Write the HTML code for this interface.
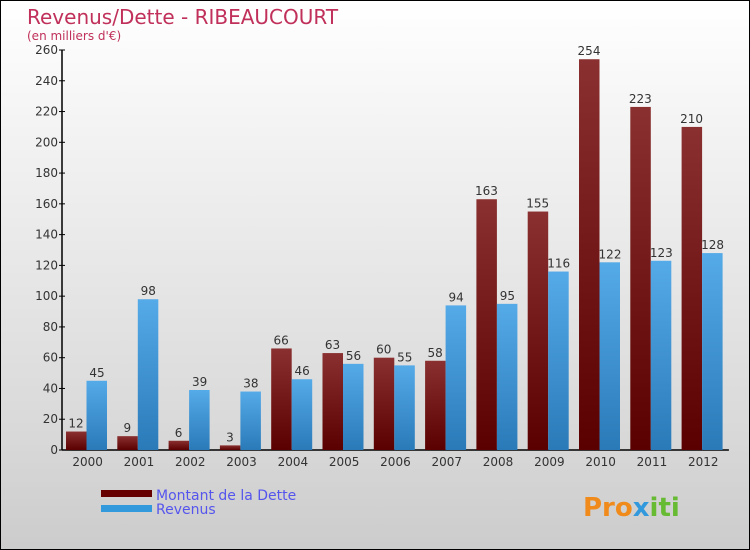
<!DOCTYPE html>
<html><head><meta charset="utf-8"><style>
body{margin:0}
#c{position:relative;width:748px;height:548px;border:1px solid #000;background:linear-gradient(#fff,#f0f0f0 30%,#d8d8d8 80%,#cccccc);font-family:"DejaVu Sans","Liberation Sans",sans-serif;overflow:hidden}
</style></head><body>
<div id="c">
<svg width="748" height="548">
<defs>
<linearGradient id="gd" x1="0" y1="0" x2="0" y2="1"><stop offset="0" stop-color="#8a3030"/><stop offset="1" stop-color="#5a0000"/></linearGradient>
<linearGradient id="gr" x1="0" y1="0" x2="0" y2="1"><stop offset="0" stop-color="#55aae8"/><stop offset="1" stop-color="#2a7ab8"/></linearGradient>
</defs>
<text x="26" y="23" font-size="20" fill="#c0305a">Revenus/Dette - RIBEAUCOURT</text>
<text x="26" y="39" font-size="12" fill="#c0305a">(en milliers d'€)</text>
<g id="axes"></g>
<g id="bars"></g>
<rect x="100" y="489" width="51" height="7" fill="#660000"/>
<rect x="100" y="504" width="51" height="7" fill="#3399dd"/>
<text x="155" y="499" font-size="14" fill="#5555ee">Montant de la Dette</text>
<text x="155" y="513" font-size="14" fill="#5555ee">Revenus</text>
<text x="582" y="515" font-size="26" font-weight="bold" fill="#f08a1a">Pro<tspan fill="#3399dd">x</tspan><tspan fill="#66bb33">iti</tspan></text>
</svg>
</div>
<script>
const years=["2000","2001","2002","2003","2004","2005","2006","2007","2008","2009","2010","2011","2012"];
const dette=[12,9,6,3,66,63,60,58,163,155,254,223,210];
const revenus=[45,98,39,38,46,56,55,94,95,116,122,123,128];
const yTicks=[0,20,40,60,80,100,120,140,160,180,200,220,240,260];
const NS="http://www.w3.org/2000/svg";
const x0=61,gw=51.3,y0=449,ppu=400/260;
const Y=v=>y0-v*ppu;
function mk(t,a,p){const e=document.createElementNS(NS,t);for(const k in a)e.setAttribute(k,a[k]);p.appendChild(e);return e;}
const ax=document.getElementById('axes'),bg=document.getElementById('bars');
const yl=mk('line',{x1:x0,y1:Y(260),x2:x0,y2:y0,stroke:'#000','stroke-width':1.5},ax);


const xl=mk('line',{x1:x0,y1:y0,x2:x0+gw*13,y2:y0,stroke:'#000','stroke-width':1.5},ax);


yTicks.forEach(v=>{
 mk('line',{x1:x0-3,x2:x0+3,y1:Y(v),y2:Y(v),stroke:'#000'},ax);
 const t=mk('text',{x:x0-4,y:Y(v)+4,'text-anchor':'end','font-size':12,fill:'#333'},ax);t.textContent=v;
 
 
});
years.forEach((yr,i)=>{
 const gx=x0+i*gw;
 const t=mk('text',{x:gx+gw/2,y:y0+16,'text-anchor':'middle','font-size':12,fill:'#333'},ax);t.textContent=yr;
 
 
 const d=mk('rect',{x:gx+4,y:Y(dette[i]),width:20.5,height:dette[i]*ppu,fill:'url(#gd)'},bg);
 
 
 const r=mk('rect',{x:gx+24.5,y:Y(revenus[i]),width:20.5,height:revenus[i]*ppu,fill:'url(#gr)'},bg);
 
 
 const l1=mk('text',{x:gx+14,y:Y(dette[i])-4,'text-anchor':'middle','font-size':12,fill:'#333'},bg);l1.textContent=dette[i];
 
 
 const l2=mk('text',{x:gx+35,y:Y(revenus[i])-4,'text-anchor':'middle','font-size':12,fill:'#333'},bg);l2.textContent=revenus[i];
 
 
});
</script>
</body></html>
